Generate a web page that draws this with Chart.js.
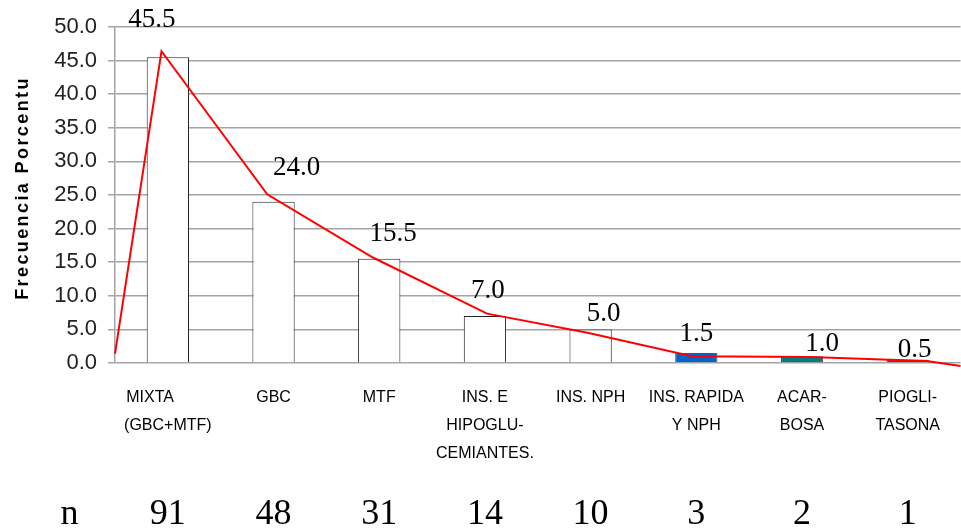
<!DOCTYPE html>
<html><head><meta charset="utf-8">
<script src="https://cdn.jsdelivr.net/npm/chart.js@4.4.1/dist/chart.umd.min.js"></script>
<style>html,body{margin:0;padding:0;background:#fff}canvas{display:block}</style>
</head><body>
<canvas id="c" width="961" height="529"></canvas>
<script>
// ---- data ----
const categories = [["MIXTA        ", "(GBC+MTF)"], "GBC", "MTF", ["INS. E", "HIPOGLU-", "CEMIANTES."], "INS. NPH", ["INS. RAPIDA", "Y NPH"], ["ACAR-", "BOSA"], ["PIOGLI-", "TASONA"]];
const percentages = [45.5, 24.0, 15.5, 7.0, 5.0, 1.5, 1.0, 0.5];
const counts = [91, 48, 31, 14, 10, 3, 2, 1];
// red polyline (x in category index units, y in percent)
const trendX = [-0.5, -0.06, 0.94, 1.94, 3.02, 3.97, 4.96, 6.07, 7.18, 7.5];
const trendY = [1.4, 46.4, 25.1, 15.7, 7.35, 4.5, 1.0, 0.9, 0.3, -0.45];
const yTitle = "Frecuencia Porcentu";
const nLabel = "n";

// ---- styles ----
const barColors = ["#ffffff", "#ffffff", "#ffffff", "#ffffff", "#ffffff", "#0066cc", "#008080", "#ff0000"];
const barBorders = ["#222", "#222", "#222", "#222", "#222", "#555", "#444", "#444"];
const labelNudgeX = [-16, 23, 14, 3, 13, 0, 20, 7];
const labelGap = [30, 27, 18, 18, 8, 12, 5, 3];
const gridColor = "#a4a4a4";

Chart.defaults.font.family = "'Liberation Sans', Arial, sans-serif";

const extras = {
  id: "extras",
  afterDatasetsDraw(chart) {
    const ctx = chart.ctx;
    const meta = chart.getDatasetMeta(1);
    ctx.save();
    ctx.fillStyle = "#000";
    ctx.font = "27px 'Liberation Serif', 'Times New Roman', serif";
    ctx.textAlign = "center";
    ctx.textBaseline = "alphabetic";
    meta.data.forEach((el, i) => {
      ctx.fillText(percentages[i].toFixed(1), el.x + labelNudgeX[i], el.y - labelGap[i]);
    });
    ctx.restore();
  },
  afterDraw(chart) {
    const ctx = chart.ctx;
    const meta = chart.getDatasetMeta(1);
    ctx.save();
    ctx.fillStyle = "#000";
    ctx.textAlign = "center";
    ctx.textBaseline = "alphabetic";
    ctx.font = "36px 'Liberation Serif', 'Times New Roman', serif";
    ctx.fillText(nLabel, 69.5, 524);
    meta.data.forEach((el, i) => {
      ctx.fillText(String(counts[i]), el.x, 524);
    });
    // y axis title
    ctx.translate(23, 188);
    ctx.rotate(-Math.PI / 2);
    ctx.font = "bold 18px 'Liberation Sans', Arial, sans-serif";
    ctx.letterSpacing = "2.4px";
    ctx.textBaseline = "middle";
    ctx.fillText(yTitle, 0, 0);
    ctx.restore();
  }
};

new Chart(document.getElementById("c"), {
  type: "bar",
  data: {
    labels: categories,
    datasets: [
      {
        type: "line",
        data: trendX.map((x, i) => ({ x: x, y: trendY[i] })),
        xAxisID: "x2",
        borderColor: "#ff0000",
        borderWidth: 2,
        pointRadius: 0,
        tension: 0,
        clip: false,
        order: 0
      },
      {
        type: "bar",
        data: percentages,
        xAxisID: "x",
        backgroundColor: barColors,
        borderColor: barBorders,
        borderWidth: 1,
        grouped: false,
        categoryPercentage: 1,
        barPercentage: 0.4,
        order: 1
      }
    ]
  },
  options: {
    responsive: false,
    animation: false,
    devicePixelRatio: 1,
    layout: { padding: { top: 27, right: 0, left: 0, bottom: 0 } },
    plugins: { legend: { display: false }, tooltip: { enabled: false } },
    scales: {
      x: {
        type: "category",
        offset: true,
        grid: { display: false, drawTicks: false },
        border: { display: false },
        ticks: {
          autoSkip: false, maxRotation: 0, minRotation: 0,
          color: "#000", padding: 21,
          font: { size: 16, lineHeight: 1.75 }
        },
        afterFit: (s) => { s.height = 166; }
      },
      x2: { type: "linear", min: -0.5, max: 7.5, offset: false, grid: { offset: false }, display: false },
      y: {
        min: 0, max: 50,
        ticks: {
          stepSize: 5, color: "#222", padding: 11,
          font: { size: 22 },
          callback: (v) => Number(v).toFixed(1)
        },
        grid: { color: gridColor, lineWidth: 1.5, tickLength: 7 },
        border: { color: gridColor, width: 1.5 },
        afterFit: (s) => { s.width = 115; }
      }
    }
  },
  plugins: [extras]
});
</script>
</body></html>
